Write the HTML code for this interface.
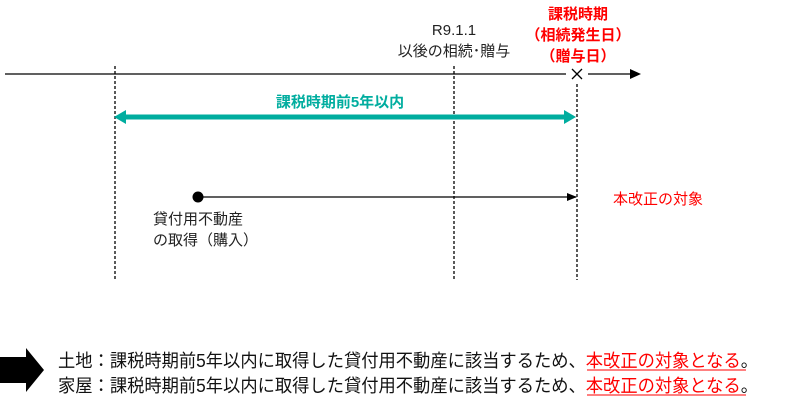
<!DOCTYPE html>
<html><head><meta charset="utf-8"><style>
body{margin:0;background:#fff;}
svg{display:block;font-family:"Liberation Sans","Noto Sans CJK JP",sans-serif;}
</style></head><body>
<svg width="800" height="405" viewBox="0 0 800 405" xmlns="http://www.w3.org/2000/svg">
<defs>
<marker id="ab" markerWidth="10" markerHeight="10" refX="9" refY="5" orient="auto" markerUnits="userSpaceOnUse"><path d="M0,1 L10,5 L0,9 z" fill="#000"/></marker>
</defs>
<line x1="5" y1="74" x2="566" y2="74" stroke="#000" stroke-width="1.3"/>
<line x1="588" y1="74" x2="632" y2="74" stroke="#000" stroke-width="1.3"/>
<path d="M630,69 L641,74 L630,79 z" fill="#000"/>
<path d="M572,69 L582,79 M582,69 L572,79" stroke="#000" stroke-width="1.3"/>
<g stroke="#000" stroke-width="1.3" stroke-dasharray="3,2">
<line x1="115" y1="66" x2="115" y2="280"/>
<line x1="454" y1="66" x2="454" y2="280"/>
<line x1="577" y1="84" x2="577" y2="280"/>
</g>
<text x="454" y="35" font-size="15" text-anchor="middle" fill="#222">R9.1.1</text>
<text x="454" y="56" font-size="15" text-anchor="middle" fill="#222">以後の相続･贈与</text>
<g fill="#ff0000" font-size="15" font-weight="bold" text-anchor="middle">
<text x="578" y="19">課税時期</text>
<text x="578" y="40">（相続発生日）</text>
<text x="578" y="61">（贈与日）</text>
</g>
<line x1="122" y1="117" x2="568" y2="117" stroke="#00ad9f" stroke-width="5"/>
<path d="M114,117 L126,110 L126,124 z" fill="#00ad9f"/>
<path d="M576,117 L564,110 L564,124 z" fill="#00ad9f"/>
<text x="340" y="107" font-size="15" font-weight="bold" fill="#00ad9f" text-anchor="middle">課税時期前5年以内</text>
<circle cx="198" cy="197" r="5.5" fill="#000"/>
<line x1="198" y1="197" x2="576" y2="197" stroke="#000" stroke-width="1.3" marker-end="url(#ab)"/>
<text x="153" y="224" font-size="15" fill="#222">貸付用不動産</text>
<text x="153" y="245" font-size="15" fill="#222">の取得（購入）</text>
<text x="613" y="204" font-size="15" fill="#ff0000">本改正の対象</text>
<path d="M0,357 L26,357 L26,348 L44,370 L26,392 L26,383 L0,383 z" fill="#000"/>
<text x="58" y="367" font-size="18" fill="#111" textLength="700" lengthAdjust="spacingAndGlyphs">土地：課税時期前5年以内に取得した貸付用不動産に該当するため、<tspan fill="#ff0000">本改正の対象となる</tspan>。</text>
<text x="58" y="392" font-size="18" fill="#111" textLength="700" lengthAdjust="spacingAndGlyphs">家屋：課税時期前5年以内に取得した貸付用不動産に該当するため、<tspan fill="#ff0000">本改正の対象となる</tspan>。</text>
<line x1="587" y1="370" x2="746" y2="370" stroke="#ff0000" stroke-width="1"/>
<line x1="587" y1="395" x2="746" y2="395" stroke="#ff0000" stroke-width="1"/>
</svg>
</body></html>
